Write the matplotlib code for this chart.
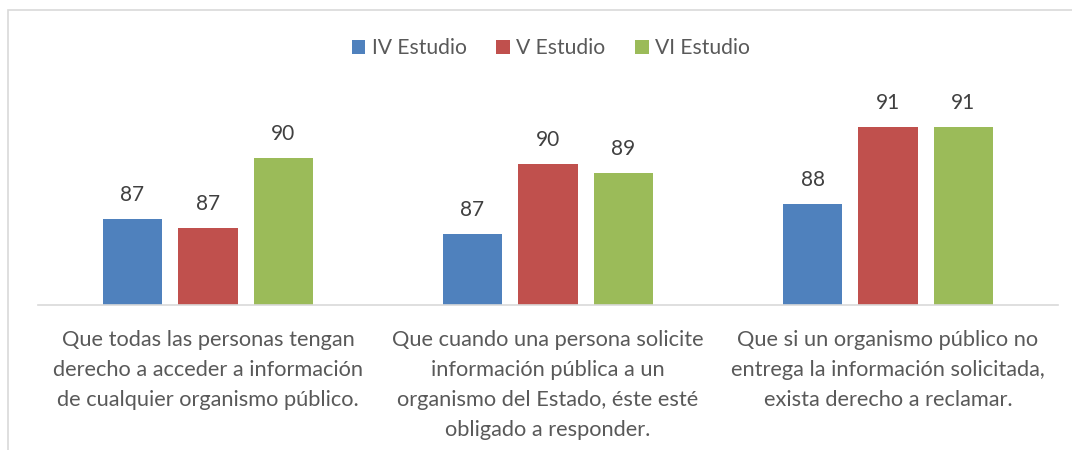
import numpy as np
import matplotlib.pyplot as plt
from matplotlib.patches import Rectangle

categorias = [
    "Que todas las personas tengan\nderecho a acceder a información\nde cualquier organismo público.",
    "Que cuando una persona solicite\ninformación pública a un\norganismo del Estado, éste esté\nobligado a responder.",
    "Que si un organismo público no\nentrega la información solicitada,\nexista derecho a reclamar.",
]
series = ["IV Estudio", "V Estudio", "VI Estudio"]
iv_estudio = [87.2, 86.55, 87.9]
v_estudio = [86.8, 89.7, 91.4]
vi_estudio = [90.0, 89.3, 91.4]
colores = ["#4F81BD", "#C0504D", "#9BBB59"]

plt.rcParams['font.family'] = ['Lato', 'DejaVu Sans']

fig = plt.figure(figsize=(10.72, 4.5), dpi=100)
# marco gris del grafico
fig.patches.append(Rectangle((8 / 1072, -0.1), 1.2, 1 - 10 / 450 + 0.1,
                             transform=fig.transFigure, fill=False,
                             edgecolor="#D9D9D9", lw=1.2))

ax = fig.add_axes([38 / 1072, 145 / 450, 1020 / 1072, 215 / 450])
x = np.arange(len(categorias))
ancho = 0.174
paso = 0.222
for i, (nombre, valores) in enumerate(zip(series, [iv_estudio, v_estudio, vi_estudio])):
    barras = ax.bar(x + (i - 1) * paso, valores, ancho, color=colores[i], label=nombre)
    ax.bar_label(barras, fmt='%.0f', padding=10, fontsize=15, color="#404040")

ax.set_xlim(-0.5, 2.5)
ax.set_ylim(83.3, 83.3 + 215 / 22)
for lado in ["top", "left", "right"]:
    ax.spines[lado].set_visible(False)
ax.spines["bottom"].set_color("#D9D9D9")
ax.spines["bottom"].set_linewidth(1.2)
ax.set_yticks([])
ax.set_xticks(x)
ax.set_xticklabels(categorias, fontsize=15.7, color="#595959", linespacing=1.62)
ax.tick_params(axis="x", length=0, pad=18)

fig.legend(loc="center", bbox_to_anchor=(551 / 1072, 1 - 48 / 450), ncol=3,
           frameon=False, fontsize=15.2, handlelength=0.65, handleheight=0.65,
           handletextpad=0.3, columnspacing=1.4, labelcolor="#595959")

fig.savefig("out.png", dpi=100)
